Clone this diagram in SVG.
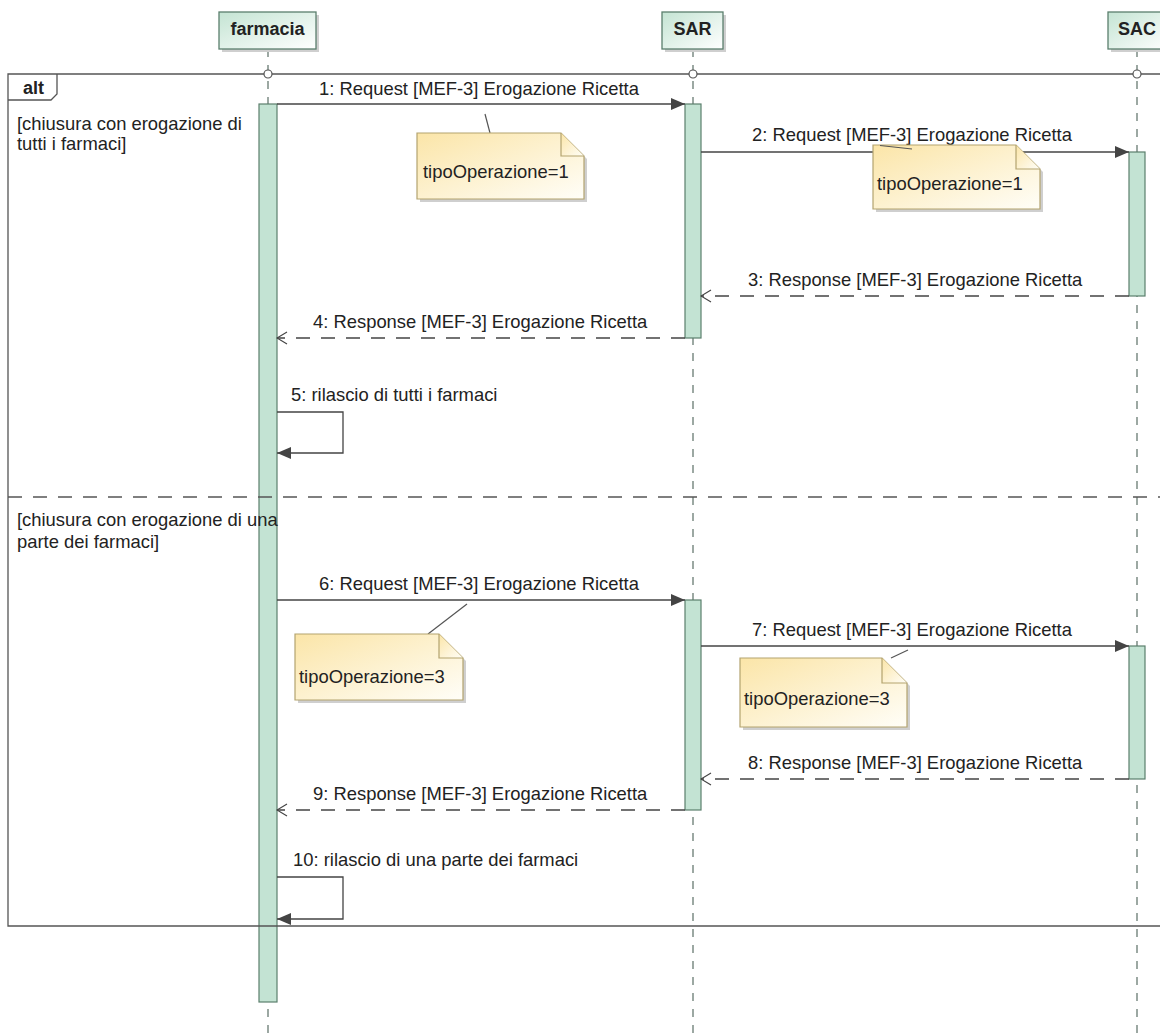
<svg xmlns="http://www.w3.org/2000/svg" width="1160" height="1036" viewBox="0 0 1160 1036">
<defs>
<linearGradient id="hg" x1="0" y1="0" x2="1" y2="1"><stop offset="0" stop-color="#c4e4d3"/><stop offset="1" stop-color="#ffffff"/></linearGradient>
<linearGradient id="ng" x1="0" y1="0" x2="1" y2="1"><stop offset="0" stop-color="#fbe5a8"/><stop offset="1" stop-color="#fffef8"/></linearGradient>
<marker id="fa" viewBox="0 0 14 12" refX="14" refY="6" markerWidth="14" markerHeight="12" markerUnits="userSpaceOnUse" orient="auto"><path d="M0,0 L14,6 L0,12 Z" fill="#444"/></marker>
<marker id="oa" viewBox="0 0 12 14" refX="11" refY="7" markerWidth="12" markerHeight="14" markerUnits="userSpaceOnUse" orient="auto"><path d="M1,1 L11,7 L1,13" fill="none" stroke="#444" stroke-width="1.2"/></marker>
<style>
text{font-family:"Liberation Sans",Arial,sans-serif;font-size:18.4px;fill:#222}
.hd{font-weight:bold;text-anchor:middle;font-size:18px}
.hbox{fill:url(#hg);stroke:#5b7f6d;stroke-width:1.3}
.shadow{fill:#cfcfcf}
.life{stroke:#5b6f66;stroke-width:1.2;stroke-dasharray:8,8;fill:none}
.bar{fill:#c3e3d3;stroke:#5b7f6d;stroke-width:1.2}
.frame{stroke:#555;stroke-width:1.3;fill:none}
.sep{stroke:#555;stroke-width:1.3;stroke-dasharray:14,11;fill:none}
.msg{stroke:#444;stroke-width:1.3;fill:none}
.resp{stroke:#444;stroke-width:1.3;fill:none;stroke-dasharray:14,11}
.note{fill:url(#ng);stroke:#b3a36f;stroke-width:1.2}
.nline{stroke:#555;stroke-width:1.2;fill:none}
</style>
</defs>
<rect width="1160" height="1036" fill="#fff"/>

<g id="lifelines">
<line class="life" x1="268" y1="49" x2="268" y2="1036"/>
<line class="life" x1="693" y1="49" x2="693" y2="1036"/>
<line class="life" x1="1137" y1="49" x2="1137" y2="1036"/>
</g>

<g id="farmacia">
<rect class="shadow" x="222" y="15" width="97" height="37"/>
<rect class="hbox" x="219" y="12" width="97" height="37"/>
<text class="hd" x="267.5" y="35">farmacia</text>
<rect class="bar" x="259" y="104" width="18" height="898"/>
</g>
<g id="SAR">
<rect class="shadow" x="665" y="15" width="61" height="37"/>
<rect class="hbox" x="662" y="12" width="61" height="37"/>
<text class="hd" x="692.5" y="35">SAR</text>
<rect class="bar" x="685" y="104" width="16" height="234"/>
<rect class="bar" x="685" y="600" width="16" height="210"/>
</g>
<g id="SAC">
<rect class="shadow" x="1111" y="15" width="61" height="37"/>
<rect class="hbox" x="1108" y="12" width="61" height="37"/>
<text class="hd" x="1137" y="35">SAC</text>
<rect class="bar" x="1129" y="152" width="16" height="144"/>
<rect class="bar" x="1129" y="646" width="16" height="133"/>
</g>

<g id="alt-frame">
<path class="frame" d="M1160,74 L8,74 L8,926 L1160,926"/>
<path class="frame" d="M8,100 L51,100 L57,94 L57,74"/>
<text x="23" y="94" style="font-weight:bold;font-size:18px">alt</text>
<line class="sep" x1="8" y1="497" x2="1160" y2="497"/>
<text x="17" y="130">[chiusura con erogazione di</text>
<text x="17" y="150">tutti i farmaci]</text>
<text x="17" y="526">[chiusura con erogazione di una</text>
<text x="17" y="548">parte dei farmaci]</text>
<circle cx="268" cy="74" r="4" fill="#fff" stroke="#555" stroke-width="1.2"/>
<circle cx="693" cy="74" r="4" fill="#fff" stroke="#555" stroke-width="1.2"/>
<circle cx="1137" cy="74" r="4" fill="#fff" stroke="#555" stroke-width="1.2"/>
</g>

<g id="connectors">
<line class="msg" x1="277" y1="104" x2="685" y2="104" marker-end="url(#fa)"/>
<text x="319" y="95">1: Request [MEF-3] Erogazione Ricetta</text>
<line class="msg" x1="701" y1="152" x2="1129" y2="152" marker-end="url(#fa)"/>
<text x="752" y="141">2: Request [MEF-3] Erogazione Ricetta</text>
<line class="resp" x1="1129" y1="296" x2="701" y2="296" marker-end="url(#oa)"/>
<text x="748" y="286">3: Response [MEF-3] Erogazione Ricetta</text>
<line class="resp" x1="685" y1="338" x2="277" y2="338" marker-end="url(#oa)"/>
<text x="313" y="328">4: Response [MEF-3] Erogazione Ricetta</text>
<path class="msg" d="M277,412 L343,412 L343,453 L277,453" marker-end="url(#fa)"/>
<text x="291" y="401">5: rilascio di tutti i farmaci</text>
<line class="msg" x1="277" y1="600" x2="685" y2="600" marker-end="url(#fa)"/>
<text x="319" y="590">6: Request [MEF-3] Erogazione Ricetta</text>
<line class="msg" x1="701" y1="646" x2="1129" y2="646" marker-end="url(#fa)"/>
<text x="752" y="636">7: Request [MEF-3] Erogazione Ricetta</text>
<line class="resp" x1="1129" y1="779" x2="701" y2="779" marker-end="url(#oa)"/>
<text x="748" y="769">8: Response [MEF-3] Erogazione Ricetta</text>
<line class="resp" x1="685" y1="810" x2="277" y2="810" marker-end="url(#oa)"/>
<text x="313" y="800">9: Response [MEF-3] Erogazione Ricetta</text>
<path class="msg" d="M277,877 L343,877 L343,919 L277,919" marker-end="url(#fa)"/>
<text x="293" y="866">10: rilascio di una parte dei farmaci</text>
</g>

<g id="note1">
<line class="nline" x1="485" y1="114" x2="490" y2="133"/>
<path class="shadow" d="M420,136 L564,136 L587,159 L587,202 L420,202 Z"/>
<path class="note" d="M417,133 L561,133 L584,156 L584,199 L417,199 Z"/>
<path class="note" d="M561,133 L561,156 L584,156"/>
<text x="423" y="178">tipoOperazione=1</text>
</g>
<g id="note2">
<path class="shadow" d="M876,148 L1019,148 L1043,172 L1043,212 L876,212 Z"/>
<path class="note" d="M873,145 L1016,145 L1040,169 L1040,209 L873,209 Z"/>
<path class="note" d="M1016,145 L1016,169 L1040,169"/>
<line class="nline" x1="880" y1="145.5" x2="912" y2="149"/>
<text x="877" y="190">tipoOperazione=1</text>
</g>
<g id="note3">
<line class="nline" x1="428" y1="634" x2="467" y2="604"/>
<path class="shadow" d="M298,637 L442,637 L466,661 L466,703 L298,703 Z"/>
<path class="note" d="M295,634 L439,634 L463,658 L463,700 L295,700 Z"/>
<path class="note" d="M439,634 L439,658 L463,658"/>
<text x="299" y="683">tipoOperazione=3</text>
</g>
<g id="note4">
<line class="nline" x1="891" y1="658" x2="908" y2="650"/>
<path class="shadow" d="M743,661 L885,661 L910,686 L910,730 L743,730 Z"/>
<path class="note" d="M740,658 L882,658 L907,683 L907,727 L740,727 Z"/>
<path class="note" d="M882,658 L882,683 L907,683"/>
<text x="744" y="705">tipoOperazione=3</text>
</g>
</svg>
